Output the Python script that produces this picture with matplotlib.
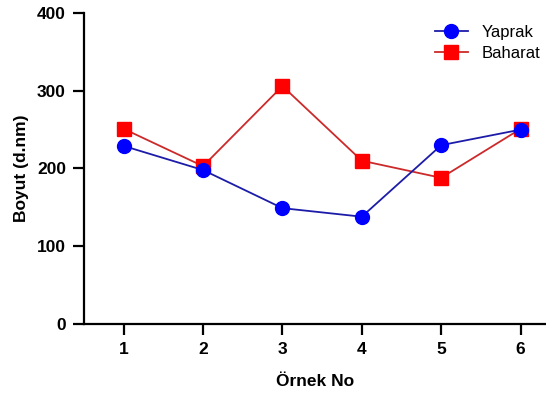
import numpy as np
import matplotlib
matplotlib.use("Agg")
from matplotlib import pyplot as plt

plt.rcParams['font.family'] = ['Liberation Sans', 'DejaVu Sans']

ornek = [1, 2, 3, 4, 5, 6]
yaprak = [229, 198, 149, 138, 230, 250]
baharat = [251, 203, 306, 210, 188, 251]

fig = plt.figure(figsize=(5.46, 3.94), dpi=100)
ax = fig.add_axes([0.1538, 0.1777, 0.8462, 0.7893])

ax.plot(ornek, yaprak, color='#1c1ca8', lw=1.3, marker='o', ms=10,
        mfc='#0000ff', mec='#0000ff', label='Yaprak', zorder=3)
ax.plot(ornek, baharat, color='#cc2a2a', lw=1.3, marker='s', ms=10,
        mfc='#ff0000', mec='#ff0000', label='Baharat', zorder=2)

ax.set_xlim(0.5, 6.32)
ax.set_ylim(0, 400)
ax.set_xticks(ornek)
ax.set_yticks([0, 100, 200, 300, 400])

for s in ['top', 'right']:
    ax.spines[s].set_visible(False)
for s in ['left', 'bottom']:
    ax.spines[s].set_linewidth(1.6)
ax.tick_params(width=1.6, length=8, labelsize=12.5, pad=5)
for lab in ax.get_xticklabels() + ax.get_yticklabels():
    lab.set_fontweight('bold')

ax.set_xlabel('Örnek No', fontsize=12.5, fontweight='bold', labelpad=12)
ax.set_ylabel('Boyut (d.nm)', fontsize=12.5, fontweight='bold', labelpad=6)

ax.legend(loc='upper right', frameon=False, fontsize=12,
          bbox_to_anchor=(1.02, 1.01), handlelength=2.0, labelspacing=0.35)

fig.savefig('out.png', dpi=100)
